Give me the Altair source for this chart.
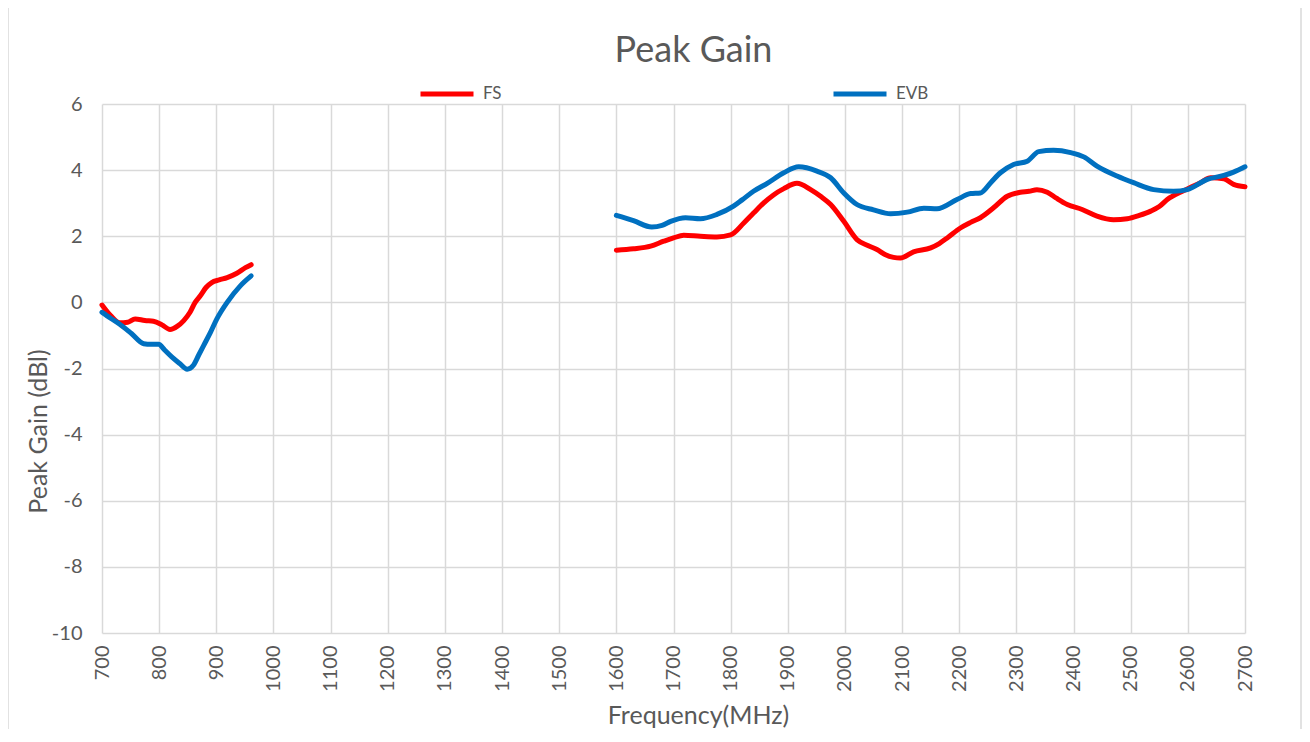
import altair as alt
import pandas as pd

# ---- data ----
fs_freq = [700, 715, 731, 745, 758, 775, 790, 805, 819, 832, 843, 854, 863, 872, 882, 892, 905, 919, 936, 951, 961,
           1600, 1630, 1660, 1683, 1700, 1718, 1747, 1776, 1800, 1823, 1840, 1858, 1875, 1893, 1916, 1940, 1958, 1975,
           1998, 2021, 2040, 2056, 2070, 2085, 2097, 2120, 2150, 2165, 2179, 2202, 2220, 2237, 2260, 2284, 2307, 2322,
           2336, 2354, 2370, 2389, 2415, 2441, 2470, 2494, 2515, 2535, 2550, 2564, 2593, 2622, 2640, 2663, 2680, 2700]
fs_gain = [-0.08, -0.4, -0.62, -0.6, -0.5, -0.55, -0.57, -0.68, -0.82, -0.72, -0.55, -0.3, 0.0, 0.2, 0.45, 0.6, 0.68,
           0.75, 0.88, 1.05, 1.14,
           1.58, 1.62, 1.7, 1.85, 1.95, 2.03, 2.0, 1.98, 2.04, 2.4, 2.7, 3.01, 3.25, 3.44, 3.6, 3.41, 3.2, 2.96,
           2.45, 1.9, 1.72, 1.6, 1.45, 1.36, 1.34, 1.53, 1.65, 1.78, 1.95, 2.25, 2.42, 2.56, 2.86, 3.21, 3.33, 3.36,
           3.41, 3.33, 3.15, 2.96, 2.81, 2.61, 2.5, 2.53, 2.63, 2.76, 2.9, 3.11, 3.38, 3.62, 3.77, 3.74, 3.57, 3.5]

evb_freq = [700, 715, 731, 752, 773, 786, 799, 810, 822, 836, 849, 860, 869, 878, 890, 901, 919, 942, 961,
            1600, 1630, 1662, 1680, 1695, 1721, 1747, 1776, 1805, 1820, 1840, 1864, 1893, 1919, 1951, 1975, 1998,
            2021, 2050, 2080, 2109, 2138, 2161, 2196, 2220, 2237, 2255, 2272, 2295, 2319, 2339, 2365, 2395, 2418,
            2441, 2476, 2505, 2540, 2575, 2599, 2634, 2663, 2680, 2700]
evb_gain = [-0.3, -0.48, -0.66, -0.95, -1.25, -1.27, -1.27, -1.45, -1.65, -1.85, -2.02, -1.9, -1.6, -1.3, -0.9, -0.5,
            0.0, 0.5, 0.8,
            2.63, 2.47, 2.28, 2.33, 2.45, 2.56, 2.53, 2.66, 2.91, 3.1, 3.36, 3.6, 3.92, 4.1, 3.97, 3.77, 3.31,
            2.96, 2.8, 2.68, 2.73, 2.85, 2.83, 3.11, 3.29, 3.31, 3.62, 3.92, 4.17, 4.27, 4.56, 4.6, 4.53, 4.4,
            4.12, 3.82, 3.62, 3.41, 3.36, 3.41, 3.72, 3.84, 3.94, 4.1]

series_names = ["FS", "EVB"]
series_colors = ["#FF0000", "#0070C0"]
x_ticks = list(range(700, 2701, 100))
y_ticks = list(range(-10, 7, 2))

rows = []
for name, fr, gn in [("FS", fs_freq, fs_gain), ("EVB", evb_freq, evb_gain)]:
    for f, g in zip(fr, gn):
        rows.append({"series": name, "freq": f, "gain": g, "seg": "low" if f < 1300 else "high"})
df = pd.DataFrame(rows)

W, H = 1143, 529
GRAY = "#595959"

lines = alt.Chart(df).mark_line(strokeWidth=5, strokeCap="round", strokeJoin="round",
                                interpolate="monotone").encode(
    x=alt.X("freq:Q",
            scale=alt.Scale(domain=[700, 2700], nice=False, zero=False),
            axis=alt.Axis(values=x_ticks, labelExpr="'' + datum.value", labelAngle=-90, labelPadding=12,
                          title="Frequency(MHz)",
                          titleX=596, titleY=90, titleBaseline="alphabetic", titleAlign="center")),
    y=alt.Y("gain:Q",
            scale=alt.Scale(domain=[-10, 6], nice=False, zero=False),
            axis=alt.Axis(values=y_ticks, labelExpr="'' + datum.value", labelPadding=20,
                          title="Peak Gain (dBl)",
                          titleX=-64, titleY=327, titleAngle=270, titleBaseline="middle", titleAlign="center")),
    color=alt.Color("series:N",
                    scale=alt.Scale(domain=series_names, range=series_colors),
                    legend=alt.Legend(title=None, orient="none", legendX=316, legendY=-39, direction="horizontal",
                                      symbolType="stroke", symbolSize=2809, symbolStrokeWidth=5,
                                      labelFont="Lato", labelFontSize=17, labelColor=GRAY, labelOffset=7,
                                      columnPadding=321, padding=0)),
    detail="seg:N",
)

frame = alt.Chart(alt.Data(values=[{"k": 1}])).mark_rect(
    fill="transparent", stroke="#d9d9d9", strokeWidth=1.5).encode(
    x=alt.value(-94), x2=alt.value(W + 56), y=alt.value(-97), y2=alt.value(H + 110))

chart = alt.layer(frame, lines).properties(
    width=W, height=H,
    autosize=alt.AutoSizeParams(type="none"),
    padding={"left": 94, "top": 96, "right": 57, "bottom": 96},
    title=alt.TitleParams(text="Peak Gain", font="Lato", fontSize=36, color=GRAY, fontWeight="normal",
                          anchor="middle", dx=20, dy=68),
).configure_axis(
    gridColor="#d9d9d9", gridWidth=1.5, domain=False, ticks=False,
    labelFont="Lato", labelFontSize=20, labelColor=GRAY,
    titleFont="Lato", titleFontSize=25, titleColor=GRAY, titleFontWeight="normal",
).configure_view(stroke="transparent")

chart.save("out.html", embed_options={"renderer": "svg", "actions": False})
